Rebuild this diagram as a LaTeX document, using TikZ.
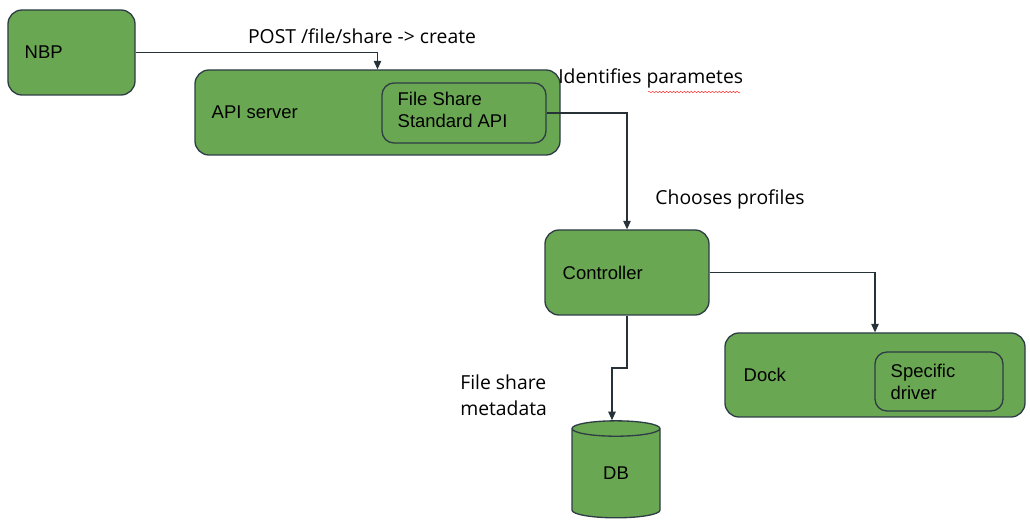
\documentclass[tikz,border=0pt]{standalone}
\usepackage{fontspec}
\setmainfont{Liberation Sans}
\newfontfamily\notefont{Open Sans}
\usetikzlibrary{positioning,arrows.meta,shapes.geometric,decorations.pathmorphing}

\definecolor{boxgreen}{HTML}{6AA753}
\definecolor{boxedge}{HTML}{2E3D45}
\definecolor{arrowgrey}{HTML}{263238}

\tikzset{
  box/.style={draw=boxedge, fill=boxgreen, line width=0.75pt, rounded corners=0.28cm},
  innerbox/.style={box, rounded corners=0.24cm},
  boxlabel/.style={inner sep=0pt, font=\fontsize{10.5}{12.5}\selectfont, align=left},
  note/.style={inner sep=0pt, font=\notefont\fontsize{11}{14.7}\selectfont, align=left},
  link/.style={draw=arrowgrey, line width=0.6pt, -{Triangle[length=0.17cm,width=0.15cm]}}
}

\begin{document}
\begin{tikzpicture}
  \useasboundingbox (0,0) rectangle (20.6,-10.6);

  % boxes
  \node[box, minimum width=2.54cm, minimum height=1.7cm] (nbp) at (1.43,-1.05) {};
  \node[boxlabel, right=0.34cm of nbp.west] (nbp-txt) {NBP};

  \node[box, minimum width=7.3cm, minimum height=1.7cm] (api) at (7.55,-2.25) {};
  \node[boxlabel, right=0.34cm of api.west] (api-txt) {API server};
  \node[innerbox, minimum width=3.28cm, minimum height=1.2cm] (fsapi) at (9.28,-2.26) {};
  \node[boxlabel, right=0.32cm of fsapi.west, yshift=0.07cm] (fsapi-txt) {File Share\\Standard API};

  \node[box, minimum width=3.28cm, minimum height=1.7cm] (ctrl) at (12.54,-5.45) {};
  \node[boxlabel, right=0.36cm of ctrl.west] (ctrl-txt) {Controller};

  \node[box, minimum width=6cm, minimum height=1.68cm] (dock) at (17.5,-7.5) {};
  \node[boxlabel, right=0.38cm of dock.west] (dock-txt) {Dock};
  \node[innerbox, minimum width=2.56cm, minimum height=1.18cm] (drv) at (18.78,-7.63) {};
  \node[boxlabel, right=0.32cm of drv.west] (drv-txt) {Specific\\driver};

  \node[box, rounded corners=0pt, cylinder, shape border rotate=90, aspect=0.6,
        minimum width=1.76cm, minimum height=1.94cm, boxlabel] (db) at (12.32,-9.47) {DB};

  % connectors
  \draw[link] (nbp.east) -| (api.north);
  \draw[link] (fsapi.east) -| (ctrl.north);
  \draw[link] (ctrl.east) -| (dock.north);
  \coordinate (jog) at (12.24,-7.36);
  \draw[link] (ctrl.south) |- (jog) -- (jog |- db.north);

  % notes
  \node[note] (post) at (7.24,-0.72) {POST /file/share -> create};
  \node[note, anchor=west] (ident) at (11.16,-1.56) {Identifies parametes};
  \draw[red!80, line width=0.3pt, decorate, decoration={snake, amplitude=0.4pt, segment length=2pt}]
    (12.96,-1.84) -- (14.8,-1.84);
  \node[note] (choose) at (14.6,-3.98) {Chooses profiles};
  \node[note, anchor=west] (meta) at (9.2,-7.9) {File share\\metadata};
\end{tikzpicture}
\end{document}
